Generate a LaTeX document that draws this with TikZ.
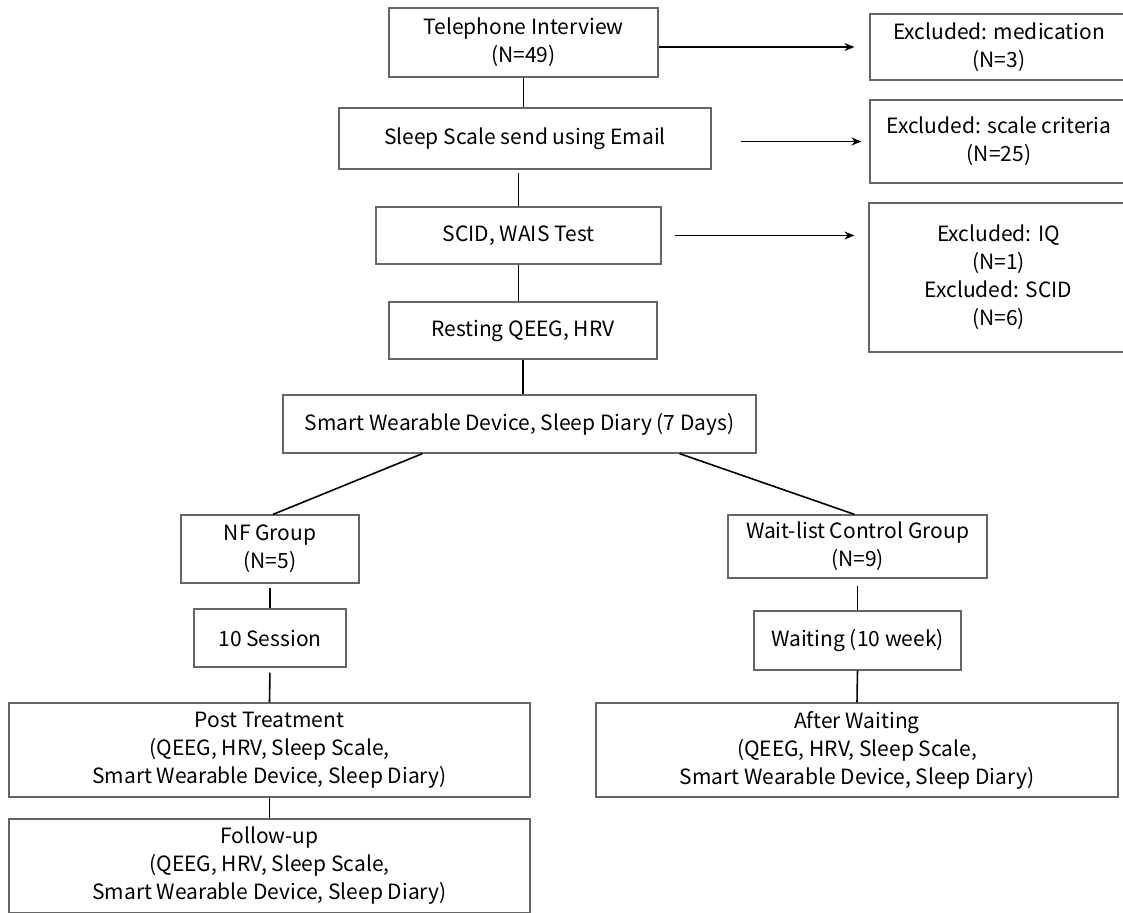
\documentclass[tikz,border=0pt]{standalone}
\usepackage{fontspec}
\setmainfont{Noto Sans CJK KR}
\usetikzlibrary{calc,arrows.meta}

\begin{document}
\begin{tikzpicture}[x=1pt, y=-1pt,
	box/.style={draw=black!60, line width=1.2pt, inner sep=0pt, align=center, font=\fontsize{21}{28}\selectfont},
	link/.style={line width=1.6pt},
	excl/.style={link, -{Stealth[length=10pt, width=8pt]}}]
	\useasboundingbox (0,0) rectangle (1123,912);
	\clip (0,0) rectangle (1123,912);
	% main column
	\node[box, minimum width=269pt, minimum height=69pt] (tel) at (523.5,42.5) {Telephone Interview\\(N=49)};
	\node[box, minimum width=372pt, minimum height=61pt] (sleep) at (525,138.5) {Sleep Scale send using Email};
	\node[box, minimum width=285pt, minimum height=57pt] (scid) at (518.5,235.5) {SCID, WAIS Test};
	\node[box, minimum width=268pt, minimum height=57pt] (rest) at (523,330.5) {Resting QEEG, HRV};
	\node[box, minimum width=473pt, minimum height=58pt] (smart) at (519.5,424) {Smart Wearable Device, Sleep Diary (7 Days)};
	% excluded
	\node[box, minimum width=258pt, minimum height=66pt] (med) at (999,47) {Excluded: medication\\(N=3)};
	\node[box, minimum width=258pt, minimum height=83pt] (crit) at (999,141.5) {Excluded: scale criteria\\(N=25)};
	\node[box, minimum width=259pt, minimum height=149pt] (iq) at (998.5,277.5) {Excluded: IQ\\(N=1)\\Excluded: SCID\\(N=6)};
	% groups
	\node[box, minimum width=178pt, minimum height=68pt] (nf) at (270,549) {NF Group\\(N=5)};
	\node[box, minimum width=259pt, minimum height=63pt] (wait) at (857.5,546.5) {Wait-list Control Group\\(N=9)};
	\node[box, minimum width=152pt, minimum height=58pt] (sess) at (270,638) {10 Session};
	\node[box, minimum width=207pt, minimum height=59pt] (waiting) at (857.5,640.5) {Waiting (10 week)};
	\node[box, minimum width=521pt, minimum height=94pt] (post) at (269.5,750) {Post Treatment\\(QEEG, HRV, Sleep Scale,\\Smart Wearable Device, Sleep Diary)};
	\node[box, minimum width=522pt, minimum height=94pt] (after) at (857,750) {After Waiting\\(QEEG, HRV, Sleep Scale,\\Smart Wearable Device, Sleep Diary)};
	\node[box, minimum width=521pt, minimum height=94pt] (follow) at (269.5,866) {Follow-up\\(QEEG, HRV, Sleep Scale,\\Smart Wearable Device, Sleep Diary)};
	% connectors
	\draw[link] (tel.south) -- (tel.south |- sleep.north);
	\draw[link, shorten <=3pt] (scid.north |- sleep.south) -- (scid.north);
	\draw[link] (scid.south) -- (scid.south |- rest.north);
	\draw[link] (rest.south) -- (rest.south |- smart.north);
	\draw[link] ($(smart.south)+(-97,0)$) -- ($(nf.north)+(3,0)$);
	\draw[link] ($(smart.south)+(160,0)$) -- ($(wait.north)+(-3,0)$);
	\draw[link, shorten <=4pt] (nf.south) -- (sess.north);
	\draw[link, shorten <=5pt] (sess.south) -- (post.north);
	\draw[link] (post.south) -- (follow.north);
	\draw[link, shorten <=7pt] (wait.south) -- (waiting.north);
	\draw[link] (waiting.south) -- (after.north);
	% exclusions
	\draw[excl, shorten >=15pt] (tel.east |- med.west) -- (med.west);
	\draw[excl, shorten <=29pt, shorten >=8pt] (sleep.east |- crit.west) -- (crit.west);
	\draw[excl, shorten <=13pt, shorten >=14pt] (scid.east) -- (scid.east -| iq.west);
\end{tikzpicture}
\end{document}
